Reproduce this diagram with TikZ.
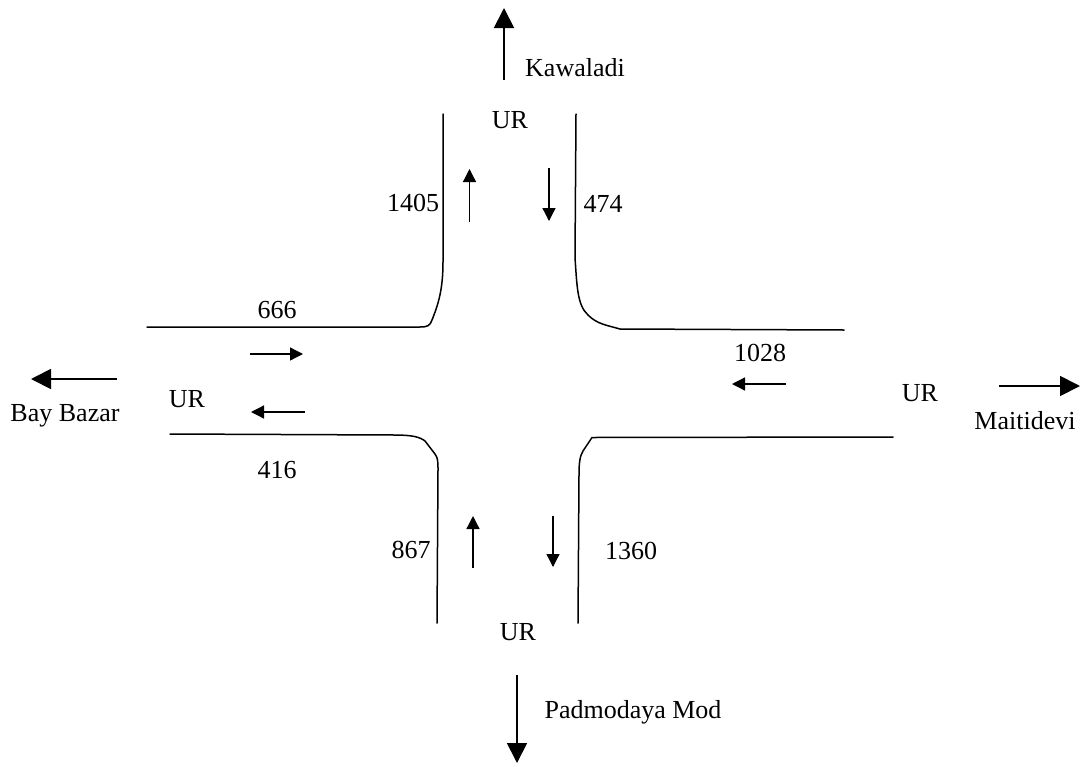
\documentclass[tikz,border=0pt]{standalone}
\usepackage{fontspec}
\setmainfont{Liberation Serif}
\usetikzlibrary{arrows.meta}
\tikzset{
    road/.style = {line width=1.5pt,line cap=round},
    bigflow/.style = {line width=1.8pt,-{Triangle[length=20pt,width=20pt]}},
    flow/.style = {line width=1.3pt,-{Triangle[length=13pt,width=13pt]}},
    lab/.style = {inner sep=0pt,font=\fontsize{26}{30}\selectfont}}
\begin{document}
\begin{tikzpicture}[x=1pt,y=-1pt]
        \useasboundingbox (0,0) rectangle (1087,766);
        % outgoing directions
        \node[lab] (Kaw) at (575,68) {Kawaladi};
        \node[lab] (Pad) at (633,712) {Padmodaya Mod};
        \node[lab] (Bay) at (65,416) {Bay Bazar};
        \node[lab] (Mai) at (1025,421) {Maitidevi};
        \node[lab] (URn) at (510,120) {UR};
        \node[lab] (URs) at (518,632) {UR};
        \node[lab] (URw) at (187,399) {UR};
        \node[lab] (URe) at (920,393) {UR};
        % counts
        \node[lab] (C1405) at (413,203) {1405};
        \node[lab] (C474) at (603,204) {474};
        \node[lab] (C666) at (277,310) {666};
        \node[lab] (C1028) at (760,353) {1028};
        \node[lab] (C416) at (277,470) {416};
        \node[lab] (C867) at (411,550) {867};
        \node[lab] (C1360) at (631,551) {1360};
        % end points
        \coordinate (KawA) at (504,80);
        \coordinate (KawB) at (504,8);
        \coordinate (PadA) at (517,675);
        \coordinate (PadB) at (517,763);
        \coordinate (BayA) at (117,379);
        \coordinate (BayB) at (31,379);
        \coordinate (MaiA) at (999,386);
        \coordinate (MaiB) at (1080,386);
        \draw[bigflow] (KawA) -- (KawB);
        \draw[bigflow] (PadA) -- (PadB);
        \draw[bigflow] (BayA) -- (BayB);
        \draw[bigflow] (MaiA) -- (MaiB);
        \coordinate (NupA) at (469.5,222);
        \coordinate (NupB) at (469.5,169);
        \coordinate (NdnA) at (549,168);
        \coordinate (NdnB) at (549,221);
        \coordinate (WinA) at (250,354);
        \coordinate (WinB) at (303,354);
        \coordinate (WoutA) at (305,412);
        \coordinate (WoutB) at (251,412);
        \coordinate (EinA) at (786,384);
        \coordinate (EinB) at (732,384);
        \coordinate (SupA) at (473,568);
        \coordinate (SupB) at (473,516);
        \coordinate (SdnA) at (553,516);
        \coordinate (SdnB) at (553,567);
        \draw[flow] (NupA) -- (NupB);
        \draw[flow] (NdnA) -- (NdnB);
        \draw[flow] (WinA) -- (WinB);
        \draw[flow] (WoutA) -- (WoutB);
        \draw[flow] (EinA) -- (EinB);
        \draw[flow] (SupA) -- (SupB);
        \draw[flow] (SdnA) -- (SdnB);
        % road edges
        \draw[road] (443,114) -- (443,262) .. controls (443,290) and (438,305) .. (432,320) .. controls (430,326) and (427,327) .. (420,327) -- (147,327);
        \draw[road] (576,114) -- (575,258) .. controls (577,285) and (577,305) .. (588,315) .. controls (597,324) and (606,325) .. (620,329) -- (844,330);
        \draw[road] (170,434) -- (395,435) .. controls (412,435) and (420,437) .. (425,441) -- (435,454) .. controls (438,458) and (438,462) .. (438,470) -- (437,623);
        \draw[road] (893,437) -- (592,437.5) -- (583,451) .. controls (580,456) and (579,462) .. (579,475) -- (578,623);
\end{tikzpicture}
\end{document}
